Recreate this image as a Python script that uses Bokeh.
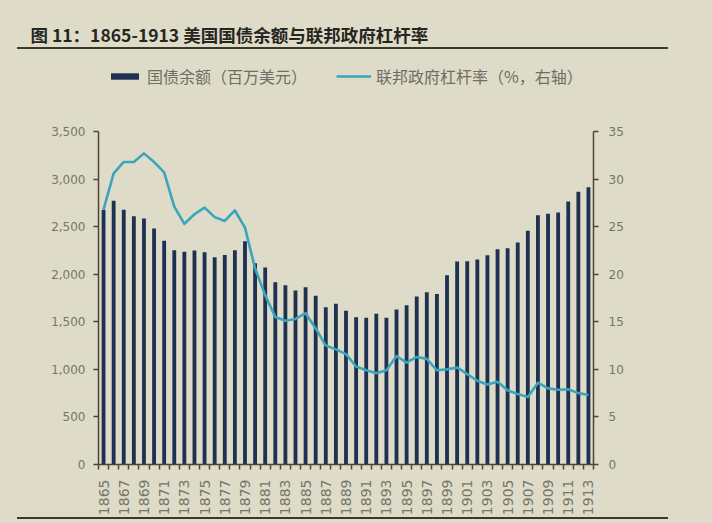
import math
from bokeh.plotting import figure
from bokeh.models import (Range1d, LinearAxis, FixedTicker, NumeralTickFormatter,
                          BasicTickFormatter, Legend, LegendItem, ColumnDataSource)
from bokeh.embed import file_html
from bokeh.resources import INLINE

# ---------------- data ----------------
years = list(range(1865, 1914))
debt = [2677, 2772, 2677, 2610, 2586, 2480, 2351, 2253, 2235, 2249, 2232, 2179, 2203,
        2253, 2347, 2116, 2070,
        1916, 1885, 1829, 1864, 1773, 1654, 1689, 1615, 1548, 1542, 1584, 1542, 1629,
        1675, 1766, 1811, 1792,
        1990, 2134, 2137, 2155, 2200, 2263, 2274, 2333, 2456, 2621, 2635, 2649, 2765,
        2866, 2915]
leverage = [26.8, 30.6, 31.8, 31.8, 32.7, 31.8, 30.7, 27.1, 25.3, 26.3, 27.0, 26.0, 25.6,
            26.7, 24.9, 20.6, 17.8,
            15.5, 15.1, 15.3, 15.9, 14.3, 12.5, 12.1, 11.6, 10.3, 9.9, 9.6, 9.9, 11.4,
            10.7, 11.3, 11.1, 9.9,
            10.0, 10.2, 9.5, 8.8, 8.4, 8.7, 7.8, 7.4, 7.1, 8.6, 8.0, 7.85, 7.9, 7.5, 7.3]
label_years = years[::2]
left_ticks = [0, 500, 1000, 1500, 2000, 2500, 3000, 3500]
right_ticks = [0, 5, 10, 15, 20, 25, 30, 35]
title_text = "图 11：1865-1913 美国国债余额与联邦政府杠杆率"
bar_label = "国债余额（百万美元）"
line_label = "联邦政府杠杆率（%，右轴）"

# ---------------- layout / style ----------------
W, H = 712, 523
FRAME_TOP, AXIS_TOP, AXIS_BOTTOM = 55, 131, 464      # page pixels
FRAME_LEFT, FRAME_RIGHT = 98, 593
# the frame reaches above the axes so that the legend lives inside it
headroom = (AXIS_BOTTOM - FRAME_TOP) / (AXIS_BOTTOM - AXIS_TOP)

BG = "#dedbc8"
AXIS = "#4a4632"
TICKTXT = "#76766a"
BAR = "#1f3151"
LINE = "#3aa5bd"
RULE = "#3b3a28"
CJK = "Noto Sans CJK SC"

src = ColumnDataSource(dict(year=years, debt=debt, lev=leverage))

p = figure(width=W, height=H, output_backend="svg", toolbar_location=None,
           x_range=Range1d(years[0] - 0.5, years[-1] + 0.5),
           y_range=Range1d(left_ticks[0], left_ticks[-1] * headroom),
           min_border_left=FRAME_LEFT, min_border_right=W - FRAME_RIGHT,
           min_border_top=FRAME_TOP, min_border_bottom=H - AXIS_BOTTOM,
           background_fill_color=BG, border_fill_color=BG,
           border_fill_alpha=0, outline_line_color=None)
p.styles = {
    "background-color": BG,
    "background-image": "linear-gradient(%s,%s), linear-gradient(%s,%s)" % (RULE, RULE, RULE, RULE),
    "background-size": "651px 2px, 651px 2px",
    "background-position": "17px 47px, 17px 517px",
    "background-repeat": "no-repeat",
}
p.extra_y_ranges = {"lev": Range1d(right_ticks[0], right_ticks[-1] * headroom)}
p.xgrid.visible = False
p.ygrid.visible = False

bars = p.vbar(x="year", top="debt", width=0.38, source=src, fill_color=BAR,
              line_color=None)
line = p.line(x="year", y="lev", source=src, y_range_name="lev", line_width=2.6,
              line_color=LINE, line_join="round")


def style_axis(ax):
    ax.axis_line_color = AXIS
    ax.axis_line_width = 1.5
    ax.major_tick_line_color = AXIS
    ax.major_tick_line_width = 1.5
    ax.minor_tick_line_color = None
    ax.major_tick_out = 5
    ax.major_tick_in = 0
    ax.major_label_text_color = TICKTXT
    ax.major_label_text_font = "DejaVu Sans"
    ax.major_label_text_font_size = "12px"


yl = p.yaxis[0]
yl.ticker = FixedTicker(ticks=left_ticks)
yl.formatter = NumeralTickFormatter(format="0,0")
yl.bounds = (left_ticks[0], left_ticks[-1])
style_axis(yl)
yl.major_label_standoff = 8

yr = LinearAxis(y_range_name="lev", ticker=FixedTicker(ticks=right_ticks),
                bounds=(right_ticks[0], right_ticks[-1]))
style_axis(yr)
yr.major_label_standoff = 10
p.add_layout(yr, "right")

xa = p.xaxis[0]
xa.ticker = FixedTicker(ticks=label_years,
                        minor_ticks=[y - 0.5 for y in years] + [years[-1] + 0.5])
xa.formatter = BasicTickFormatter(use_scientific=False)
style_axis(xa)
xa.major_tick_out = 0
xa.minor_tick_line_color = AXIS
xa.minor_tick_line_width = 1.5
xa.minor_tick_out = 5
xa.minor_tick_in = 0
xa.major_label_orientation = math.pi / 2
xa.major_label_text_font_size = "14px"
xa.major_label_standoff = 10

# title in the top panel
p.title.text = title_text
p.title.align = "left"
p.title.offset = 30 - FRAME_LEFT
p.title.text_font = CJK
p.title.text_font_style = "bold"
p.title.text_font_size = "17.5px"
p.title.text_color = "#262620"
p.title.standoff = 17

legend = Legend(items=[LegendItem(label=bar_label, renderers=[bars]),
                       LegendItem(label=line_label, renderers=[line])],
                orientation="horizontal", location=(9, 376),
                glyph_width=35, glyph_height=8, label_height=8,
                label_text_font=CJK, label_text_font_size="16px",
                label_text_color="#6e6e64", label_standoff=5, spacing=29,
                padding=0, margin=0, background_fill_alpha=0, border_line_color=None)
p.add_layout(legend)

html = file_html(p, INLINE, title="chart")
html = html.replace("<body>", '<body style="background-color:%s;">' % BG, 1)
open("out.html", "w").write(html)
